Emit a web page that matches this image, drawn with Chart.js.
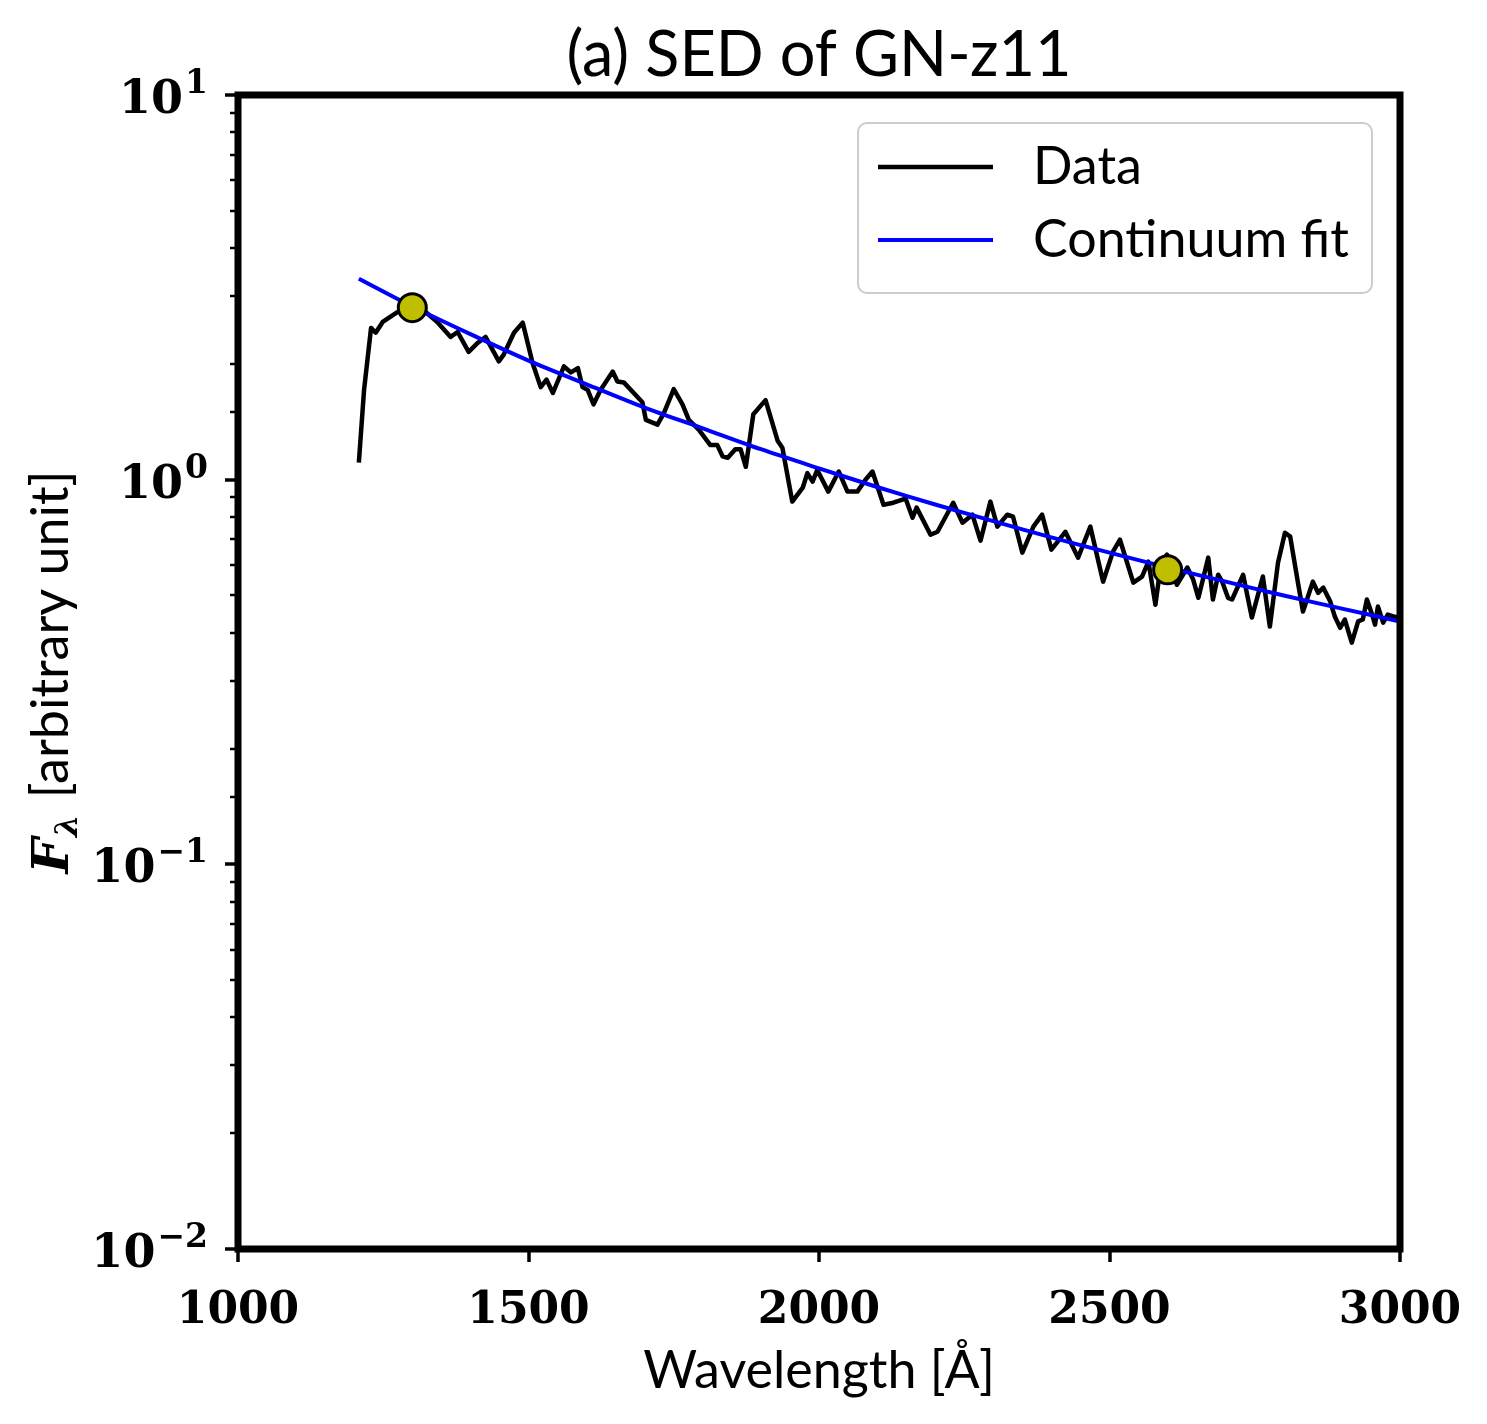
<!DOCTYPE html>
<html>
<head>
<meta charset="utf-8">
<script src="https://cdn.jsdelivr.net/npm/chart.js@4.4.1/dist/chart.umd.min.js"></script>
<style>
  html, body { margin: 0; padding: 0; background: #fff; }
  #wrap { width: 1487px; height: 1424px; }
</style>
</head>
<body>
<div id="wrap"><canvas id="sed" width="1487" height="1424"></canvas></div>
<script>
// ── data ─────────────────────────────────────────────────────────────────
const dataWave = [
  1208, 1217, 1229, 1237, 1249, 1275, 1298, 1318, 1344, 1366, 1378, 1397, 1413, 1426,
  1449, 1457, 1475, 1490, 1507, 1521, 1531, 1542, 1561, 1573, 1585, 1593, 1602, 1612,
  1624, 1645, 1653, 1664, 1696, 1702, 1722, 1733, 1750, 1765, 1776, 1793, 1813, 1825,
  1834, 1843, 1856, 1865, 1874, 1887, 1908, 1929, 1937, 1954, 1972, 1980, 1989, 1997,
  2016, 2034, 2049, 2066, 2080, 2092, 2111, 2128, 2149, 2161, 2168, 2192, 2204, 2231,
  2247, 2264, 2278, 2295, 2307, 2324, 2334, 2350, 2369, 2384, 2400, 2424, 2446, 2467,
  2489, 2506, 2518, 2541, 2556, 2567, 2579, 2589, 2599, 2608, 2616, 2634, 2644, 2653,
  2670, 2678, 2687, 2694, 2704, 2711, 2730, 2745, 2764, 2776, 2790, 2802, 2811, 2825,
  2833, 2850, 2859, 2868, 2880, 2888, 2897, 2905, 2917, 2928, 2936, 2943, 2952, 2957,
  2962, 2971, 2979, 2991, 3000
];
const dataFlux = [
  1.107, 1.714, 2.48, 2.41, 2.57, 2.73, 2.85, 2.77, 2.56, 2.35, 2.42, 2.15, 2.27, 2.35,
  2.03, 2.11, 2.41, 2.56, 2.01, 1.74, 1.82, 1.68, 1.97, 1.90, 1.95, 1.74, 1.71, 1.57,
  1.71, 1.91, 1.80, 1.79, 1.59, 1.43, 1.39, 1.49, 1.72, 1.57, 1.43, 1.35, 1.23, 1.23,
  1.15, 1.14, 1.20, 1.20, 1.08, 1.48, 1.61, 1.26, 1.21, 0.877, 0.953, 1.04, 0.988, 1.06,
  0.931, 1.05, 0.931, 0.931, 1.00, 1.05, 0.861, 0.871, 0.893, 0.796, 0.846, 0.719, 0.732, 0.871,
  0.773, 0.811, 0.694, 0.877, 0.755, 0.811, 0.801, 0.646, 0.755, 0.811, 0.658, 0.732, 0.627, 0.755,
  0.543, 0.650, 0.698, 0.540, 0.560, 0.612, 0.473, 0.612, 0.638, 0.576, 0.533, 0.591, 0.550, 0.493,
  0.627, 0.488, 0.566, 0.543, 0.493, 0.488, 0.566, 0.438, 0.560, 0.415, 0.608, 0.728, 0.711, 0.533,
  0.454, 0.543, 0.508, 0.524, 0.482, 0.440, 0.412, 0.433, 0.377, 0.428, 0.433, 0.488, 0.446, 0.420,
  0.468, 0.425, 0.446, 0.440, 0.437
];
const fitWave = [1208, 1300, 1400, 1500, 1600, 1700, 1800, 1900, 2000, 2100, 2200, 2300, 2400, 2500, 2600, 2700, 2800, 2900, 3000];
const fitFlux = [3.33, 2.82, 2.39, 2.04, 1.77, 1.54, 1.36, 1.20, 1.07, 0.957, 0.862, 0.780, 0.708, 0.646, 0.591, 0.543, 0.500, 0.462, 0.428];
const anchorWave = [1300, 2600];
const anchorFlux = [2.80, 0.583];
const xTicks = [1000, 1500, 2000, 2500, 3000];
const yDecades = [0.01, 0.1, 1, 10];
const seriesNames = ['Data', 'Continuum fit'];
const titleText = '(a) SED of GN-z11';
const xTitle = 'Wavelength [Å]';

const SANS = 'Lato, "DejaVu Sans", sans-serif';
const SERIF = '"DejaVu Serif", serif';

const pts = (xs, ys) => xs.map((x, i) => ({ x, y: ys[i] }));

// ── frame, ticks, titles, legend ─────────────────────────────────────────
const decor = {
  id: 'decor',
  afterDraw(chart) {
    const { ctx, chartArea: a, scales } = chart;
    const xs = scales.x, ys = scales.y;
    ctx.save();
    ctx.strokeStyle = '#000';
    ctx.fillStyle = '#000';
    ctx.lineCap = 'butt';

    // x ticks (outward)
    ctx.lineWidth = 3.5;
    for (const v of xTicks) {
      const px = Math.round(xs.getPixelForValue(v));
      ctx.beginPath(); ctx.moveTo(px, a.bottom); ctx.lineTo(px, a.bottom + 13); ctx.stroke();
    }
    // y ticks: major at decades, minor otherwise
    for (const t of ys.ticks) {
      const lg = Math.log10(t.value);
      const major = Math.abs(lg - Math.round(lg)) < 1e-6;
      const py = Math.round(ys.getPixelForValue(t.value));
      ctx.lineWidth = major ? 3.5 : 2.5;
      ctx.beginPath(); ctx.moveTo(a.left, py); ctx.lineTo(a.left - (major ? 13 : 8), py); ctx.stroke();
    }
    // frame
    ctx.lineWidth = 7;
    ctx.strokeRect(a.left, a.top, a.right - a.left, a.bottom - a.top);

    // y tick labels 10^n
    ctx.textBaseline = 'alphabetic';
    ctx.textAlign = 'right';
    for (const v of yDecades) {
      const py = ys.getPixelForValue(v);
      const ex = String(Math.round(Math.log10(v))).replace('-', '−');
      ctx.font = 'bold 33px ' + SERIF;
      const we = ctx.measureText(ex).width;
      const xr = a.left - 30;
      ctx.fillText(ex, xr, py - 2);
      ctx.font = 'bold 46px ' + SERIF;
      ctx.fillText('10', xr - we - 2, py + 18);
    }

    // title + x title
    ctx.textAlign = 'center';
    ctx.font = '63px ' + SANS;
    ctx.fillText(titleText, (a.left + a.right) / 2, 76);
    ctx.font = '52px ' + SANS;
    ctx.fillText(xTitle, (a.left + a.right) / 2, 1388);

    // y title: F_λ [arbitrary unit], rotated
    ctx.save();
    ctx.translate(68, (a.top + a.bottom) / 2);
    ctx.rotate(-Math.PI / 2);
    ctx.textAlign = 'left';
    const fF = 'italic bold 50px ' + SERIF;
    const fL = 'italic bold 32px ' + SERIF;
    const fT = '52px ' + SANS;
    ctx.font = fF; const wF = ctx.measureText('F').width;
    ctx.font = fL; const wL = ctx.measureText('λ').width;
    ctx.font = fT; const wT = ctx.measureText(' [arbitrary unit]').width;
    let x0 = -(wF + wL + 4 + wT) / 2;
    ctx.font = fF; ctx.fillText('F', x0, 0); x0 += wF + 1;
    ctx.font = fL; ctx.fillText('λ', x0, 9); x0 += wL + 3;
    ctx.font = fT; ctx.fillText(' [arbitrary unit]', x0, 0);
    ctx.restore();

    // legend
    const lx = 858, ly = 123, lw = 514, lh = 170, r = 9;
    ctx.beginPath();
    ctx.moveTo(lx + r, ly);
    ctx.arcTo(lx + lw, ly, lx + lw, ly + lh, r);
    ctx.arcTo(lx + lw, ly + lh, lx, ly + lh, r);
    ctx.arcTo(lx, ly + lh, lx, ly, r);
    ctx.arcTo(lx, ly, lx + lw, ly, r);
    ctx.closePath();
    ctx.fillStyle = 'rgba(255,255,255,0.8)';
    ctx.fill();
    ctx.strokeStyle = '#cccccc';
    ctx.lineWidth = 2;
    ctx.stroke();
    const ds = chart.data.datasets;
    seriesNames.forEach((name, i) => {
      const y = 167 + i * 73;
      ctx.strokeStyle = ds[i].borderColor;
      ctx.lineWidth = ds[i].borderWidth;
      ctx.beginPath(); ctx.moveTo(878, y); ctx.lineTo(993, y); ctx.stroke();
      ctx.fillStyle = '#000';
      ctx.font = '52px ' + SANS;
      ctx.textAlign = 'left';
      ctx.textBaseline = 'middle';
      ctx.fillText(name, 1033, y);
    });
    ctx.restore();
  }
};

new Chart(document.getElementById('sed'), {
  type: 'line',
  data: {
    datasets: [
      {
        label: seriesNames[0],
        data: pts(dataWave, dataFlux),
        borderColor: '#000000',
        borderWidth: 4.5,
        borderJoinStyle: 'round',
        pointRadius: 0,
        tension: 0,
        order: 3,
      },
      {
        label: seriesNames[1],
        data: pts(fitWave, fitFlux),
        borderColor: '#0000ff',
        borderWidth: 4,
        pointRadius: 0,
        tension: 0.3,
        order: 2,
      },
      {
        label: 'anchors',
        data: pts(anchorWave, anchorFlux),
        showLine: false,
        pointRadius: 14,
        pointBackgroundColor: '#bfbf00',
        pointBorderColor: '#000000',
        pointBorderWidth: 3,
        order: 1,
      },
    ],
  },
  options: {
    responsive: false,
    animation: false,
    events: [],
    layout: { padding: { top: 95, right: 87, left: 0, bottom: 0 } },
    plugins: { legend: { display: false }, tooltip: { enabled: false } },
    scales: {
      x: {
        type: 'linear',
        min: 1000,
        max: 3000,
        afterBuildTicks: s => { s.ticks = xTicks.map(v => ({ value: v })); },
        afterFit: s => { s.height = 1424 - 1249; s.paddingLeft = 0; s.paddingRight = 0; },
        grid: { display: false },
        border: { display: false },
        ticks: {
          color: '#000',
          font: { family: '"DejaVu Serif", serif', size: 44, weight: 'bold' },
          padding: 28,
          maxRotation: 0,
          callback: v => String(v),
        },
      },
      y: {
        type: 'logarithmic',
        min: 0.01,
        max: 10,
        afterFit: s => { s.width = 238; s.paddingTop = 0; s.paddingBottom = 0; },
        grid: { display: false },
        border: { display: false },
        ticks: { display: true, autoSkip: false, callback: () => '' },
      },
    },
  },
  plugins: [decor],
});
</script>
</body>
</html>
